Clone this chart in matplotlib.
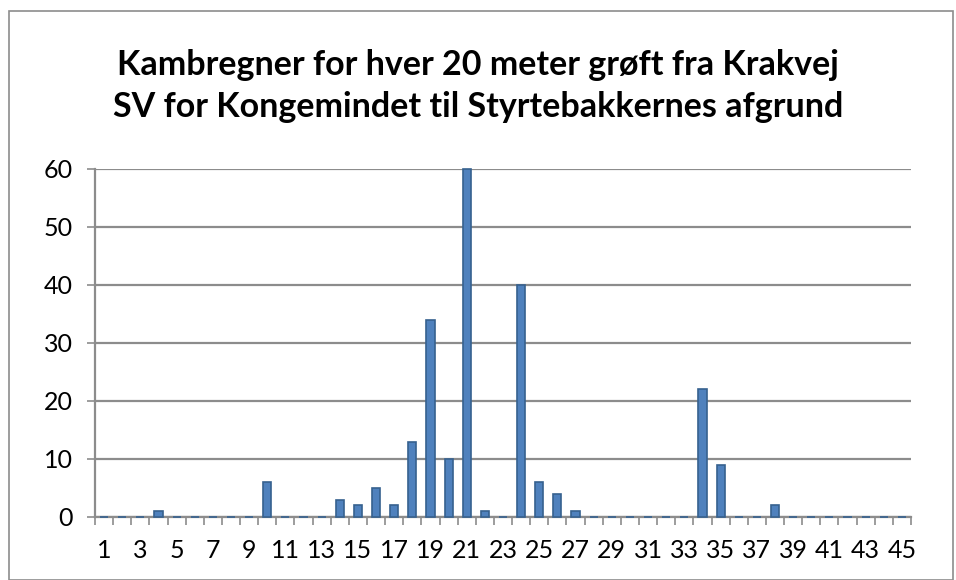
import numpy as np
import matplotlib.pyplot as plt
from matplotlib.patches import Rectangle

# data: number of kambregner per 20 m section (sections 1..45)
sections = list(range(1, 46))
counts = [0, 0, 0, 1, 0, 0, 0, 0, 0, 6,
          0, 0, 0, 3, 2, 5, 2, 13, 34, 10,
          60, 1, 0, 40, 6, 4, 1, 0, 0, 0,
          0, 0, 0, 22, 9, 0, 0, 2, 0, 0,
          0, 0, 0, 0, 0]
tick_labels = [str(s) if s % 2 == 1 else "" for s in sections]
title = "Kambregner for hver 20 meter grøft fra Krakvej\nSV for Kongemindet til Styrtebakkernes afgrund"

plt.rcParams['font.family'] = ['Lato', 'DejaVu Sans']

fig = plt.figure(figsize=(9.56, 5.8), dpi=100)
W, H = 956, 580

# outer chart border
fig.patches.append(Rectangle((9 / W, 0), (953 - 9) / W, 1 - 11 / H, transform=fig.transFigure,
                             fill=False, edgecolor='#8c8c8c', linewidth=1.2))

ax = fig.add_axes([95 / W, 1 - 517 / H, (911 - 95) / W, (517 - 169) / H])

x = np.arange(len(sections))
bars = ax.bar(x, counts, width=0.45, color='#4f81bd', edgecolor='#36618f',
              linewidth=1.2, zorder=3)
for b in bars:
    b.set_clip_on(False)

ax.set_xlim(-0.5, len(sections) - 0.5)
ax.set_ylim(0, 60)
ax.set_yticks(range(0, 61, 10))
ax.yaxis.grid(True, color='#8c8c8c', linewidth=1.6)
ax.set_axisbelow(True)

ax.set_xticks(x)
ax.set_xticklabels(tick_labels)
ax.set_xticks(np.arange(-0.5, len(sections), 1), minor=True)
ax.tick_params(axis='x', which='major', length=0, pad=16, labelsize=18)
ax.tick_params(axis='x', which='minor', length=6, color='#8c8c8c', width=1.2)
ax.tick_params(axis='y', length=6, color='#8c8c8c', width=1.2, pad=10, labelsize=18)

for side in ['top', 'right']:
    ax.spines[side].set_visible(False)
for side in ['left', 'bottom']:
    ax.spines[side].set_color('#8c8c8c')
    ax.spines[side].set_linewidth(1.6)
    ax.spines[side].set_zorder(2)

fig.text(0.5, 1 - 86 / H, title, ha='center', va='center', fontsize=24.5,
         fontweight='bold', linespacing=1.35)

fig.savefig('out.png', dpi=100)
